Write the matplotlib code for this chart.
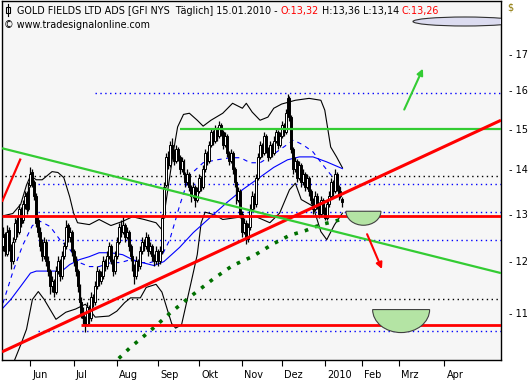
import numpy as np
import pandas as pd
import matplotlib
matplotlib.use("Agg")
import matplotlib.pyplot as plt
from matplotlib.patches import Rectangle, Wedge, Ellipse, FancyArrowPatch
from matplotlib.transforms import Affine2D, ScaledTranslation

# GFI daily candles, 11.05.2009 - 15.01.2010
first_day = "2009-05-11"
holidays = ["2009-05-25", "2009-07-03", "2009-09-07", "2009-11-26", "2009-12-25",
            "2010-01-01", "2010-01-18", "2010-02-15", "2010-04-02"]

opens = [12.30, 12.55, 12.15, 12.65, 12.30, 12.00, 12.45, 12.85, 12.60, 13.10,
         12.85, 13.20, 13.45, 13.10, 13.65, 13.95, 13.70, 13.40, 12.85, 12.60,
         12.30, 12.10, 12.40, 12.00, 11.80, 11.50, 11.60, 11.40, 11.80, 12.00,
         11.70, 12.10, 12.30, 12.75, 12.50, 12.60, 12.20, 12.00, 11.80, 11.50,
         11.20, 11.00, 10.90, 10.80, 11.10, 10.90, 11.30, 11.20, 11.50, 11.80,
         11.60, 11.70, 12.00, 11.90, 12.10, 12.30, 12.00, 11.80, 12.10, 12.40,
         12.70, 12.60, 12.75, 12.50, 12.60, 12.30, 12.10, 11.90, 11.70, 12.00,
         11.90, 12.20, 12.40, 12.30, 12.50, 12.20, 12.30, 12.10, 12.00, 12.20,
         12.00, 12.20, 12.95, 13.65, 14.30, 14.10, 14.60, 14.40, 14.20, 14.50,
         14.30, 14.00, 14.20, 13.90, 13.70, 13.90, 13.60, 13.40, 13.60, 13.30,
         13.50, 13.80, 13.60, 14.00, 14.40, 14.20, 14.60, 14.90, 14.70, 15.00,
         14.80, 15.10, 14.90, 14.60, 14.80, 14.40, 14.20, 14.40, 14.00, 13.70,
         13.30, 13.50, 13.00, 12.60, 12.80, 12.45, 12.70, 13.10, 13.40, 13.20,
         13.80, 14.30, 14.60, 14.40, 14.80, 14.50, 14.30, 14.60, 14.40, 14.70,
         14.90, 14.60, 14.80, 15.10, 14.90, 15.40, 15.80, 15.30, 14.50, 14.00,
         14.20, 13.80, 14.10, 13.70, 13.90, 13.60, 13.80, 13.50, 13.30, 13.10,
         13.40, 13.20, 13.00, 13.30, 13.10, 12.90, 13.20, 13.40, 13.70, 13.50,
         13.90, 13.60, 13.40, 13.32]
highs = [12.70, 12.60, 12.75, 12.70, 12.35, 12.50, 12.90, 12.95, 13.20, 13.15,
         13.30, 13.50, 13.50, 13.70, 14.05, 14.00, 13.75, 13.45, 12.95, 12.70,
         12.45, 12.50, 12.45, 12.10, 11.85, 11.70, 11.65, 11.90, 12.10, 12.05,
         12.20, 12.40, 12.85, 12.80, 12.70, 12.65, 12.25, 12.10, 11.85, 11.55,
         11.30, 11.10, 10.95, 11.20, 11.15, 11.40, 11.35, 11.60, 11.90, 11.85,
         11.80, 12.10, 12.05, 12.20, 12.40, 12.35, 12.05, 12.20, 12.50, 12.80,
         12.85, 12.95, 12.80, 12.70, 12.65, 12.35, 12.15, 11.95, 12.10, 12.05,
         12.30, 12.50, 12.45, 12.60, 12.55, 12.40, 12.35, 12.15, 12.30, 12.25,
         12.30, 13.00, 13.70, 14.40, 14.45, 14.70, 14.75, 14.50, 14.60, 14.55,
         14.35, 14.30, 14.25, 13.95, 14.00, 13.95, 13.65, 13.70, 13.65, 13.60,
         13.90, 13.85, 14.10, 14.50, 14.45, 14.70, 15.00, 14.95, 15.10, 15.05,
         15.20, 15.15, 14.95, 14.90, 14.85, 14.45, 14.50, 14.45, 14.05, 13.75,
         13.60, 13.55, 13.05, 12.90, 12.85, 12.80, 13.20, 13.50, 13.45, 13.90,
         14.40, 14.70, 14.65, 14.90, 14.85, 14.55, 14.70, 14.65, 14.80, 15.00,
         14.95, 14.90, 15.20, 15.15, 15.50, 15.90, 15.85, 15.35, 14.55, 14.30,
         14.25, 14.20, 14.15, 14.00, 13.95, 13.90, 13.85, 13.55, 13.35, 13.50,
         13.45, 13.25, 13.40, 13.35, 13.15, 13.30, 13.50, 13.80, 13.75, 14.00,
         13.95, 13.65, 13.60, 13.36]
lows = [12.20, 12.10, 12.10, 12.20, 11.85, 11.95, 12.40, 12.50, 12.55, 12.70,
        12.80, 13.10, 13.00, 13.05, 13.60, 13.60, 13.30, 12.70, 12.50, 12.20,
        12.00, 12.05, 11.90, 11.70, 11.35, 11.40, 11.30, 11.35, 11.75, 11.60,
        11.65, 12.05, 12.25, 12.40, 12.40, 12.10, 11.90, 11.70, 11.40, 11.10,
        10.90, 10.80, 10.65, 10.75, 10.80, 10.85, 11.10, 11.15, 11.45, 11.50,
        11.55, 11.65, 11.80, 11.85, 12.05, 11.95, 11.70, 11.75, 12.05, 12.35,
        12.50, 12.55, 12.40, 12.45, 12.20, 12.00, 11.80, 11.55, 11.65, 11.80,
        11.85, 12.15, 12.20, 12.25, 12.10, 12.15, 12.00, 11.90, 11.95, 11.90,
        11.95, 12.15, 12.90, 13.60, 14.00, 14.05, 14.30, 14.10, 14.15, 14.20,
        13.90, 13.95, 13.80, 13.60, 13.65, 13.50, 13.25, 13.35, 13.15, 13.25,
        13.45, 13.50, 13.55, 13.95, 14.10, 14.15, 14.55, 14.60, 14.65, 14.70,
        14.75, 14.80, 14.50, 14.55, 14.30, 14.10, 14.15, 13.90, 13.60, 13.20,
        13.25, 12.90, 12.50, 12.55, 12.35, 12.40, 12.65, 13.05, 13.10, 13.15,
        13.75, 14.25, 14.30, 14.35, 14.40, 14.20, 14.25, 14.30, 14.35, 14.65,
        14.50, 14.55, 14.75, 14.80, 14.85, 15.35, 15.20, 14.40, 13.90, 13.95,
        13.70, 13.75, 13.60, 13.65, 13.50, 13.55, 13.40, 13.20, 13.00, 13.05,
        13.10, 12.90, 12.95, 13.00, 12.85, 12.85, 13.15, 13.35, 13.40, 13.45,
        13.50, 13.30, 13.35, 13.14]
closes = [12.50, 12.20, 12.60, 12.30, 12.00, 12.40, 12.80, 12.60, 13.10, 12.80,
          13.20, 13.40, 13.10, 13.60, 13.90, 13.70, 13.40, 12.80, 12.60, 12.30,
          12.10, 12.40, 12.00, 11.80, 11.50, 11.60, 11.40, 11.80, 12.00, 11.70,
          12.10, 12.30, 12.70, 12.50, 12.60, 12.20, 12.00, 11.80, 11.50, 11.20,
          11.00, 10.90, 10.80, 11.10, 10.90, 11.30, 11.20, 11.50, 11.80, 11.60,
          11.70, 12.00, 11.90, 12.10, 12.30, 12.00, 11.80, 12.10, 12.40, 12.70,
          12.60, 12.75, 12.50, 12.60, 12.30, 12.10, 11.90, 11.70, 12.00, 11.90,
          12.20, 12.40, 12.30, 12.50, 12.20, 12.30, 12.10, 12.00, 12.20, 12.00,
          12.20, 12.90, 13.60, 14.30, 14.10, 14.60, 14.40, 14.20, 14.50, 14.30,
          14.00, 14.20, 13.90, 13.70, 13.90, 13.60, 13.40, 13.60, 13.30, 13.50,
          13.80, 13.60, 14.00, 14.40, 14.20, 14.60, 14.90, 14.70, 15.00, 14.80,
          15.10, 14.90, 14.60, 14.80, 14.40, 14.20, 14.40, 14.00, 13.70, 13.30,
          13.50, 13.00, 12.60, 12.80, 12.45, 12.70, 13.10, 13.40, 13.20, 13.80,
          14.30, 14.60, 14.40, 14.80, 14.50, 14.30, 14.60, 14.40, 14.70, 14.90,
          14.60, 14.80, 15.10, 14.90, 15.40, 15.80, 15.30, 14.50, 14.00, 14.20,
          13.80, 14.10, 13.70, 13.90, 13.60, 13.80, 13.50, 13.30, 13.10, 13.40,
          13.20, 13.00, 13.30, 13.10, 12.90, 13.20, 13.40, 13.70, 13.50, 13.90,
          13.60, 13.40, 13.50, 13.26]

# indicator lines (day index, price) as drawn on the chart
bb_up_day = [0, 5, 9, 12, 14, 17, 20, 25, 28, 31, 34, 36, 38, 44, 49, 55, 61, 66, 72, 78,
             81, 84, 87, 89, 92, 95, 99, 102, 106, 112, 117, 122, 124, 127, 131, 135, 138,
             142, 149, 156, 162, 164, 167, 170, 173]
bb_up = [12.95, 13.00, 13.20, 13.64, 13.85, 13.76, 13.76, 13.95, 13.93, 13.81, 13.37, 13.01,
         12.80, 12.76, 12.87, 12.74, 12.83, 12.93, 12.87, 12.80, 12.65, 13.53, 14.47, 15.04,
         15.36, 15.39, 15.21, 15.06, 15.21, 15.39, 15.65, 15.52, 15.65, 15.42, 15.21, 15.29,
         15.52, 15.63, 15.73, 15.78, 15.73, 15.47, 14.54, 14.30, 14.04]
bb_lo_day = [4, 9, 12, 15, 18, 21, 27, 32, 37, 42, 47, 54, 58, 62, 65, 70, 73, 78, 81, 84,
             86, 88, 91, 96, 99, 101, 103, 108, 112, 122, 129, 136, 141, 146, 149, 152, 158,
             162, 165, 169, 173]
bb_lo = [10.00, 10.42, 10.70, 11.25, 11.40, 11.25, 10.88, 11.01, 11.07, 11.16, 10.92, 10.94,
         11.03, 11.19, 11.28, 11.28, 11.48, 11.54, 11.39, 11.03, 10.80, 10.72, 10.78, 11.60,
         12.13, 12.80, 13.03, 12.97, 12.87, 12.93, 12.93, 12.80, 13.01, 13.53, 13.68, 13.31,
         13.16, 12.61, 12.44, 12.76, 13.01]
ma_slow_day = [0, 4, 9, 14, 17, 24, 30, 34, 39, 44, 49, 55, 61, 66, 71, 77, 82, 87, 90, 97,
               106, 114, 122, 131, 138, 145, 151, 158, 165, 173]
ma_slow = [11.09, 11.25, 11.50, 11.76, 11.80, 11.80, 11.80, 11.93, 12.03, 12.09, 12.17, 12.17,
           12.13, 12.03, 11.97, 11.91, 11.99, 12.17, 12.28, 12.59, 12.93, 13.24, 13.53, 13.82,
           14.05, 14.23, 14.30, 14.30, 14.18, 14.02]
ma_fast_day = [0, 5, 10, 15, 19, 24, 29, 34, 39, 44, 49, 55, 60, 65, 70, 75, 80, 85, 90, 95,
               102, 109, 116, 121, 126, 131, 136, 141, 148, 153, 158, 163, 167, 170, 173]
ma_fast = [11.18, 11.78, 12.32, 12.74, 12.83, 12.72, 12.44, 12.24, 11.97, 11.89, 11.89, 11.97,
           11.97, 12.03, 11.97, 11.97, 12.03, 12.44, 13.17, 13.86, 14.16, 14.23, 14.28, 14.28,
           14.16, 14.16, 14.30, 14.47, 14.71, 14.59, 14.42, 14.11, 13.88, 13.76, 13.69]
ma_long_day = [55, 65, 75, 85, 95, 107, 117, 127, 138, 146, 154, 162, 168, 173]
ma_long = [10.06, 10.38, 10.67, 10.99, 11.29, 11.64, 11.91, 12.09, 12.36, 12.53, 12.63, 12.76,
           12.82, 12.88]

# horizontal levels
blue_levels = [15.92, 13.66, 13.03, 12.43, 10.67]
blue_from = [47, 18, 18, 18, 18]
black_levels = [13.84, 11.26]
red_support = 12.95
red_bottom = 10.77
red_bottom_from = 40
green_resist = 15.00
green_from = 90

# drawn trend lines (day, price)
red_trend = [(-0.5, 10.30), (253.8, 15.21)]
green_trend = [(-0.5, 14.51), (253.8, 11.76)]
red_short = [(-0.5, 13.26), (9.0, 14.26)]
up_arrow = [(203.9, 15.42), (214.6, 16.66)]
down_arrow = [(185.0, 12.61), (193.7, 11.79)]
bowls = [(183.7, 13.05, 17.5, 14), (202.9, 11.06, 28.5, 23)]   # day, top price, half width px, depth px

month_starts = ["2009-06-01", "2009-07-01", "2009-08-01", "2009-09-01", "2009-10-01",
                "2009-11-01", "2009-12-01", "2010-01-01", "2010-02-01", "2010-03-01",
                "2010-04-01"]
month_labels = ["Jun", "Jul", "Aug", "Sep", "Okt", "Nov", "Dez", "2010", "Feb", "Mrz", "Apr"]
price_ticks = [11, 12, 13, 14, 15, 16, 17]

# ---------------------------------------------------------------------
W, H = 532, 380
plt.rcParams["font.family"] = ["DejaVu Sans"]
fig = plt.figure(figsize=(W / 100, H / 100), dpi=100)
fig.patch.set_facecolor("white")


def fx(x):
    return x / W


def fy(y):
    return 1 - y / H


ax = fig.add_axes([fx(2), fy(360), (501 - 2) / W, (360 - 1) / H])
ax.set_facecolor("#f6f6f6")
ax.set_yscale("log")
ax.set_xlim(-0.5, 253.8)
ax.set_ylim(10.16, 18.59)

days = pd.date_range(first_day, "2010-06-30",
                     freq=pd.offsets.CustomBusinessDay(holidays=holidays))
month_pos = days.searchsorted(pd.to_datetime(month_starts))

# level lines
for lv, start in zip(blue_levels, blue_from):
    ax.hlines(lv, start, 253.8, colors="#0000ff", linestyles=(0, (1, 2.5)), lw=1.0, zorder=1)
for lv in black_levels:
    ax.hlines(lv, 1, 253.8, colors="black", linestyles=(0, (1, 2.5)), lw=1.0, zorder=1)

# bands and averages
ax.plot(bb_up_day, bb_up, color="black", lw=0.8, zorder=2)
ax.plot(bb_lo_day, bb_lo, color="black", lw=0.8, zorder=2)
ax.plot(ma_slow_day, ma_slow, color="#0000ff", lw=0.8, zorder=2)
ax.plot(ma_fast_day, ma_fast, color="#0000ff", lw=0.8, ls=(0, (4, 4)), zorder=2)
ax.plot(ma_long_day, ma_long, color="#007000", lw=2.6, ls=(0, (1, 2)), zorder=3)

# candles
x = np.arange(len(closes))
o, h, l, c = (np.array(v) for v in (opens, highs, lows, closes))
ax.vlines(x, l, h, color="black", lw=0.9, zorder=4)
up = c >= o
ax.bar(x[up], (c - o)[up], bottom=o[up], width=1.0, color="white",
       edgecolor="black", lw=0.7, zorder=5)
ax.bar(x[~up], (o - c)[~up], bottom=c[~up], width=1.0, color="black",
       edgecolor="black", lw=0.7, zorder=5)

# trend lines
ax.hlines(red_support, -0.5, 253.8, colors="#ff0000", lw=2.0, zorder=6)
ax.hlines(red_bottom, red_bottom_from, 253.8, colors="#ff0000", lw=2.0, zorder=6)
ax.hlines(green_resist, green_from, 253.8, colors="#33cc33", lw=1.6, zorder=6)
for seg, col, lw in ((red_trend, "#ff0000", 2.2), (green_trend, "#33cc33", 1.6),
                     (red_short, "#ff0000", 1.6)):
    ax.plot([p[0] for p in seg], [p[1] for p in seg], color=col, lw=lw,
            solid_capstyle="butt", zorder=6)
for seg, col in ((up_arrow, "#33cc33"), (down_arrow, "#ff0000")):
    ax.add_patch(FancyArrowPatch(seg[0], seg[1], arrowstyle="-|>", mutation_scale=9,
                                 color=col, lw=1.5, zorder=7))

for d, top, rx, ry in bowls:
    tr = Affine2D().scale(rx / 100, ry / 100) + fig.dpi_scale_trans + \
        ScaledTranslation(d, top, ax.transData)
    ax.add_patch(Wedge((0, 0), 1, 180, 360, transform=tr, facecolor="#b4e4a4",
                       edgecolor="#404040", lw=0.8, zorder=7))

# oval marker top right
ax.add_patch(Ellipse((fx(465), fy(21.5)), fx(104), 9 / H, transform=fig.transFigure,
                     facecolor="#dcdcf0", edgecolor="#303030", lw=0.8, zorder=7))

# axes styling
for s in ax.spines.values():
    s.set_color("black")
    s.set_linewidth(1.0)
ax.yaxis.tick_right()
ax.yaxis.set_minor_locator(matplotlib.ticker.NullLocator())
ax.set_yticks(price_ticks)
ax.set_yticklabels(["- " + str(t) for t in price_ticks])
ax.tick_params(axis="y", which="major", direction="out", length=0,
               labelsize=7, pad=6, colors="black")
ax.set_xticks(month_pos)
ax.set_xticklabels(month_labels)
ax.tick_params(axis="x", direction="out", length=4, width=0.8, labelsize=7, pad=3)
shift = ScaledTranslation(2 / 100, 0, fig.dpi_scale_trans)
for lab in ax.get_xticklabels():
    lab.set_horizontalalignment("left")
    lab.set_transform(lab.get_transform() + shift)

# header texts
def num(v):
    return f"{v:.2f}".replace(".", ",")


renderer = fig.canvas.get_renderer()
parts = [("GOLD FIELDS LTD ADS [GFI NYS  Täglich] " + days[len(closes) - 1].strftime("%d.%m.%Y") + " - ", "black"),
         ("O:" + num(opens[-1]), "#ff0000"),
         (" H:" + num(highs[-1]) + " L:" + num(lows[-1]) + " ", "black"),
         ("C:" + num(closes[-1]), "#ff0000")]
xpos = 17
for s, col in parts:
    t = fig.text(fx(xpos), fy(14), s, color=col, fontsize=6.9, va="baseline", ha="left")
    xpos += t.get_window_extent(renderer=renderer).width
fig.text(fx(4), fy(28), "© www.tradesignalonline.com", fontsize=6.9, va="baseline", ha="left")
fig.text(fx(507), fy(11), "$", fontsize=7, color="#8b7500", va="baseline", ha="left")

# small candle icon before the title
fig.add_artist(plt.Line2D([fx(8), fx(8)], [fy(4), fy(16)], color="black", lw=0.8))
fig.add_artist(Rectangle((fx(6), fy(13)), fx(4), 6 / H, facecolor="white",
                         edgecolor="black", lw=0.8))

fig.savefig("out.png", dpi=100, facecolor="white")
